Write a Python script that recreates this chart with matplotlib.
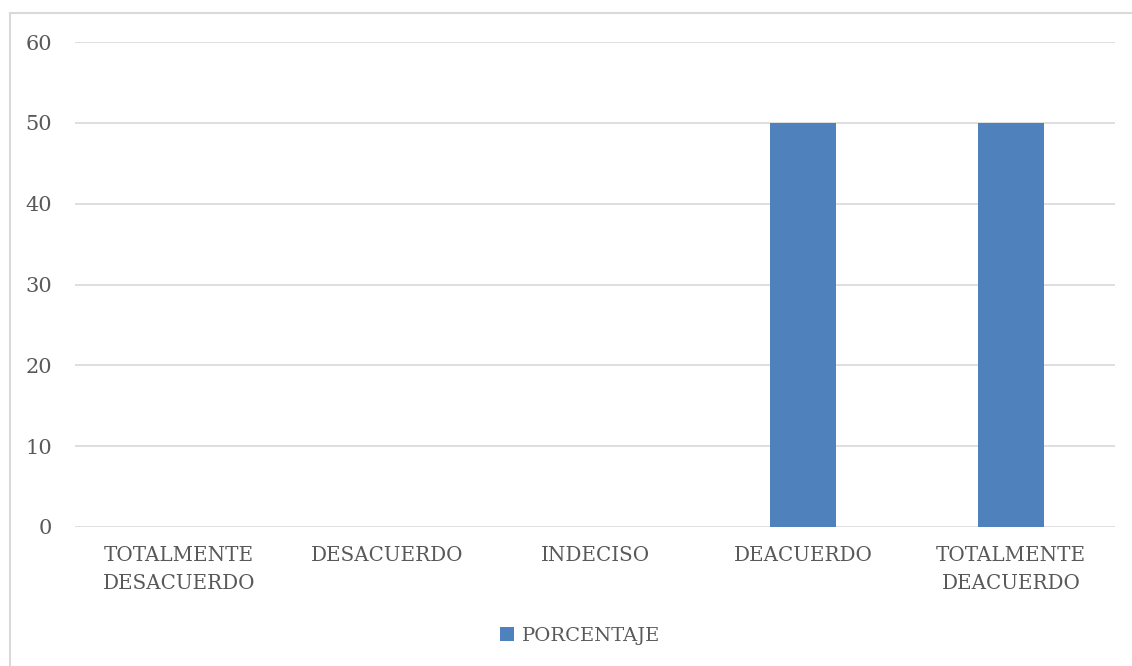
import matplotlib.pyplot as plt
from matplotlib.lines import Line2D
from matplotlib.patches import Patch

categories = ["TOTALMENTE\nDESACUERDO", "DESACUERDO", "INDECISO",
              "DEACUERDO", "TOTALMENTE\nDEACUERDO"]
porcentaje = [0, 0, 0, 50, 50]
yticks = [0, 10, 20, 30, 40, 50, 60]

bar_color = "#4F81BD"
text_color = "#595959"
grid_color = "#D9D9D9"

plt.rcParams['font.family'] = ['DejaVu Serif']

fig = plt.figure(figsize=(11.32, 6.66), dpi=100)
ax = fig.add_axes([75 / 1132, 1 - 527 / 666, 1040 / 1132, 485 / 666])

x = range(len(categories))
ax.bar(x, porcentaje, width=0.317, color=bar_color, zorder=3)

ax.set_xlim(-0.5, len(categories) - 0.5)
ax.set_ylim(0, 60)
ax.set_yticks(yticks)
ax.set_xticks(list(x))
ax.set_xticklabels(categories, fontsize=14.3, color=text_color, linespacing=1.6)
ax.tick_params(axis='y', labelsize=15, labelcolor=text_color, length=0, pad=16.5)
ax.tick_params(axis='x', length=0, pad=14)
ax.grid(axis='y', color=grid_color, linewidth=1.2, zorder=0)
for s in ax.spines.values():
    s.set_visible(False)

# outer chart frame (top and left visible)
fig.add_artist(Line2D([10 / 1132, 1], [1 - 13 / 666] * 2, color=grid_color, linewidth=1.5))
fig.add_artist(Line2D([10 / 1132] * 2, [0, 1 - 13 / 666], color=grid_color, linewidth=1.5))

handles = [Patch(facecolor=bar_color, label="PORCENTAJE")]
leg = fig.legend(handles=handles, loc='center', bbox_to_anchor=(580 / 1132, 1 - 636 / 666),
                 frameon=False, fontsize=14, handlelength=0.75, handleheight=0.75,
                 handletextpad=0.4)
for t in leg.get_texts():
    t.set_color(text_color)

fig.savefig("out.png", dpi=100)
